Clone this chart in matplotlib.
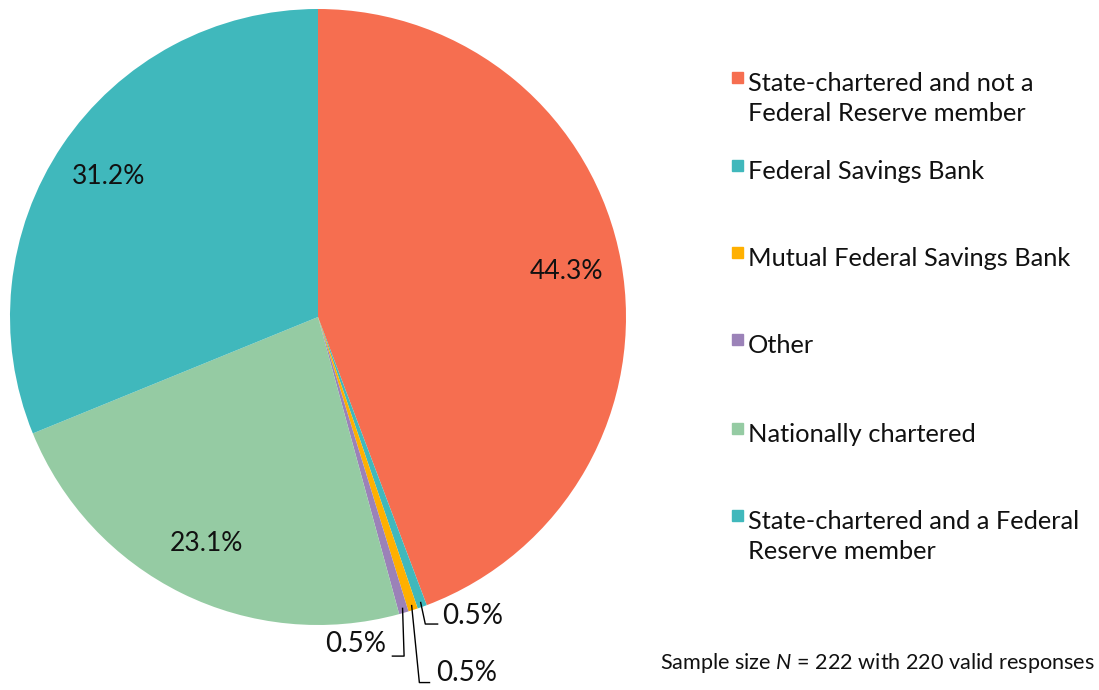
import matplotlib.pyplot as plt
import matplotlib.patches as mpatches
import numpy as np

plt.rcParams['font.family'] = ['Lato', 'DejaVu Sans']
plt.rcParams['mathtext.fontset'] = 'custom'
plt.rcParams['mathtext.it'] = 'Lato:italic'
plt.rcParams['mathtext.rm'] = 'Lato'

categories = ["State-chartered and not a\nFederal Reserve member",
              "Federal Savings Bank",
              "Mutual Federal Savings Bank",
              "Other",
              "Nationally chartered",
              "State-chartered and a Federal\nReserve member"]
shares = [44.3, 0.5, 0.5, 0.5, 23.1, 31.2]
colors = ["#F66E50", "#40B8BC", "#FFB000", "#9B82B8", "#95CBA3", "#40B8BC"]

W, H = 1099, 690
fig = plt.figure(figsize=(W / 100, H / 100), dpi=100)

# pie axes: center (318, 317) px, radius 308 px
cx, cy, r = 318, 317, 308
ax = fig.add_axes([(cx - r) / W, (H - cy - r) / H, 2 * r / W, 2 * r / H])

wedges, _ = ax.pie(shares, colors=colors, startangle=90, counterclock=False,
                   radius=1, wedgeprops=dict(linewidth=0))
ax.set_xlim(-1, 1)
ax.set_ylim(-1, 1)
ax.set_aspect('equal')
ax.axis('off')

# big labels inside the wedges
for w, s in zip(wedges, shares):
    mid = np.deg2rad((w.theta1 + w.theta2) / 2)
    if s > 5:
        ax.text(0.82 * np.cos(mid), 0.82 * np.sin(mid), f"{s:.1f}%",
                ha='center', va='center', fontsize=19, color='#111111')

# small labels with elbow leader lines
small = [(1, (0.015, -0.07), (0.055, -0.07), (0.07, -0.045), 'left'),
         (2, (0.025, -0.25), (0.058, -0.25), (0.08, -0.22), 'left'),
         (3, (0.005, -0.155), (-0.033, -0.155), (-0.052, -0.117), 'right')]
for i, e1, e2, toff, ha in small:
    w = wedges[i]
    mid = np.deg2rad((w.theta1 + w.theta2) / 2)
    x0, y0 = 0.985 * np.cos(mid), 0.985 * np.sin(mid)
    ax.plot([x0, x0 + e1[0], x0 + e2[0]], [y0, y0 + e1[1], y0 + e2[1]],
            color='black', lw=1, clip_on=False)
    ax.text(x0 + toff[0], y0 + toff[1], f"{shares[i]:.1f}%", ha=ha, va='center',
            fontsize=20, color='#111111', clip_on=False)

# legend drawn by hand
baselines = [91, 179, 266, 353, 442, 529]
for lab, col, b in zip(categories, colors, baselines):
    fig.patches.append(mpatches.Rectangle((732 / W, 1 - (b - 8) / H), 11 / W, 11 / H,
                                          transform=fig.transFigure, color=col))
    for k, line in enumerate(lab.split("\n")):
        fig.text(748 / W, 1 - (b + 30 * k) / H, line, ha='left', va='baseline',
                 fontsize=18.3, color='#111111')

fig.text(1095 / W, 1 - 663 / H, "Sample size $N$ = 222 with 220 valid responses",
         ha='right', va='center', fontsize=15.6, color='#111111')

fig.savefig("out.png", dpi=100, facecolor='white')
